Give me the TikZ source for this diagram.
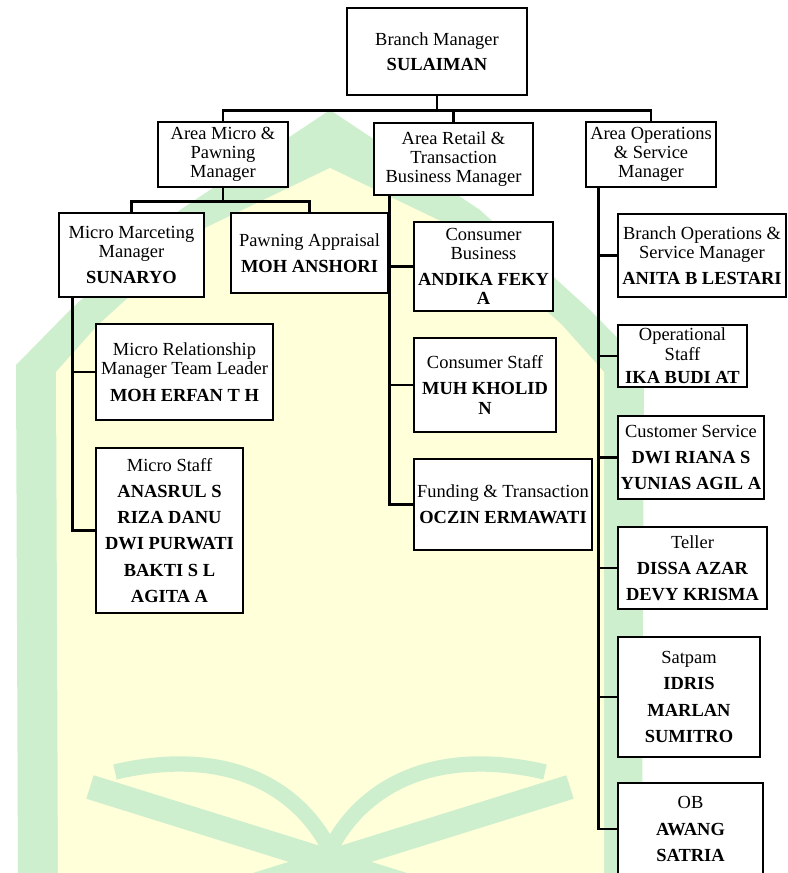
\documentclass[tikz,border=0pt]{standalone}
\usepackage{fontspec}
\setmainfont{Liberation Serif}
\usepackage{xcolor}
\usetikzlibrary{positioning}

\definecolor{wmgreen}{RGB}{205,239,206}
\definecolor{wmyellow}{RGB}{255,255,218}

\begin{document}
\begin{tikzpicture}[x=0.65pt, y=-0.65pt,
    box/.style 2 args={draw, line width=1.8pt, fill=white, inner sep=0pt, align=center,
        minimum width=#1*0.65pt, minimum height=#2*0.65pt,
        font=\fontsize{12}{12.5}\selectfont},
    link/.style={line width=1.8pt}]
    \useasboundingbox (0,0) rectangle (787,873);
    \clip (0,0) rectangle (787,873);

    % Watermark
    \fill[wmgreen] (330,110) -- (480,210) -- (590,310) -- (644,365) -- (642,880) -- (18,880) -- (16,365) -- (70,310) -- (180,210) -- cycle;
    \fill[wmyellow] (330,168) -- (455,228) -- (562,325) -- (604,372) -- (604,880) -- (58,880) -- (56,372) -- (98,325) -- (205,228) -- cycle;
    \draw[wmgreen, line width=16pt] (90,787) -- (510,918);
    \draw[wmgreen, line width=16pt] (570,787) -- (150,918);
    \draw[wmgreen, line width=10pt] (115,772) .. controls (230,745) and (300,790) .. (330,850);
    \draw[wmgreen, line width=10pt] (545,772) .. controls (430,745) and (360,790) .. (330,850);

    % Top
    \node[box={180}{87}] (branch) at (437,51.5) {Branch Manager\\[3.5pt]\textbf{SULAIMAN}};

    % Area managers
    \node[box={130}{65}] (micro) at (223,154.5) {Area Micro \&\\Pawning\\Manager};
    \node[box={159}{72}] (retail) at (453.5,159) {Area Retail \&\\Transaction\\Business Manager};
    \node[box={130}{65}] (opsarea) at (651,154.5) {Area Operations\\\& Service\\Manager};

    % Micro & pawning
    \node[box={145}{84}] (marketing) at (131.5,255) {Micro Marceting\\Manager\\[4.5pt]\textbf{SUNARYO}};
    \node[box={157}{80}] (pawning) at (309.5,253) {Pawning Appraisal\\[4.5pt]\textbf{MOH ANSHORI}};
    \node[box={177}{96}] (mrm) at (184.5,372) {Micro Relationship\\Manager Team Leader\\[4.5pt]\textbf{MOH ERFAN T H}};
    \node[box={147}{165}] (mstaff) at (169.5,530.5) {Micro Staff\\[4.5pt]\textbf{ANASRUL S}\\[4.5pt]\textbf{RIZA DANU}\\[4.5pt]\textbf{DWI PURWATI}\\[4.5pt]\textbf{BAKTI S L}\\[4.5pt]\textbf{AGITA A}};

    % Retail & transaction
    \node[box={139}{89}] (consumer) at (483.5,266.5) {Consumer\\Business\\[4.5pt]\textbf{ANDIKA FEKY}\\\textbf{A}};
    \node[box={142}{94}] (cstaff) at (485,385) {Consumer Staff\\[4.5pt]\textbf{MUH KHOLID}\\\textbf{N}};
    \node[box={178}{91}] (funding) at (503,504.5) {Funding \& Transaction\\[4.5pt]\textbf{OCZIN ERMAWATI}};

    % Operations & service
    \node[box={168}{83}] (bos) at (702,255.5) {Branch Operations \&\\Service Manager\\[4.5pt]\textbf{ANITA B LESTARI}};
    \node[box={129}{62}] (opstaff) at (682.5,356) {Operational\\Staff\\[3pt]\textbf{IKA BUDI AT}};
    \node[box={146}{83}] (cserv) at (691,457.5) {Customer Service\\[4.5pt]\textbf{DWI RIANA S}\\[4.5pt]\textbf{YUNIAS AGIL A}};
    \node[box={149}{82}] (teller) at (692.5,568) {Teller\\[4.5pt]\textbf{DISSA AZAR}\\[4.5pt]\textbf{DEVY KRISMA}};
    \node[box={142}{120}] (satpam) at (689,697) {Satpam\\[4.5pt]\textbf{IDRIS}\\[4.5pt]\textbf{MARLAN}\\[4.5pt]\textbf{SUMITRO}};
    \node[box={145}{92}] (ob) at (690.5,829) {OB\\[4.5pt]\textbf{AWANG}\\[4.5pt]\textbf{SATRIA}};

    % Links
    \draw[link] (branch.south) -- ++(0,14) -| (micro.north);
    \draw[link] (branch.south) -- ++(0,14) -| (retail.north);
    \draw[link] (branch.south) -- ++(0,14) -| (opsarea.north);

    \draw[link] (micro.south) -- ++(0,13) -| (marketing.north);
    \draw[link] (micro.south) -- ++(0,13) -| (pawning.north);
    \draw[link] (marketing.south west) ++(15,0) |- (mrm.west);
    \draw[link] (marketing.south west) ++(15,0) |- (mstaff.west);

    \foreach \n in {consumer,cstaff,funding} {
        \draw[link] (retail.south west) ++(17,0) |- (\n.west);
    }

    \foreach \n in {bos,opstaff,cserv,teller,satpam,ob} {
        \draw[link] (opsarea.south west) ++(14,0) |- (\n.west);
    }
\end{tikzpicture}
\end{document}
